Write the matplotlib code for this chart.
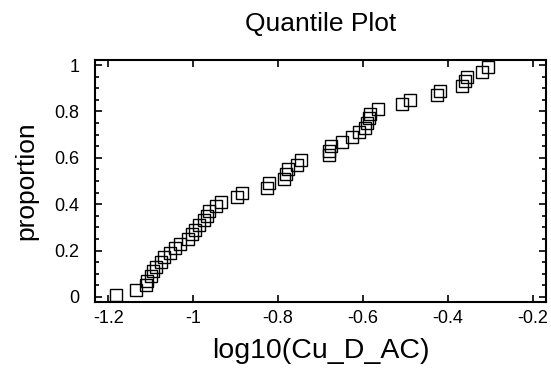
import numpy as np
import matplotlib.pyplot as plt
from matplotlib.ticker import MultipleLocator

plt.rcParams['font.family'] = ['Liberation Sans', 'DejaVu Sans']

# log10(Cu_D_AC) values, sorted, and their plotting proportions
log_cu = [-1.181, -1.134, -1.112, -1.108, -1.100, -1.095, -1.088, -1.075, -1.068, -1.055,
          -1.042, -1.032, -1.012, -1.002, -0.995, -0.985, -0.975, -0.968, -0.962, -0.945,
          -0.935, -0.896, -0.885, -0.825, -0.821, -0.786, -0.781, -0.776, -0.755, -0.745,
          -0.680, -0.680, -0.675, -0.650, -0.625, -0.610, -0.595, -0.590, -0.585, -0.583,
          -0.565, -0.508, -0.490, -0.425, -0.418, -0.367, -0.360, -0.355, -0.320, -0.305]
proportion = [0.01, 0.03, 0.05, 0.07, 0.09, 0.11, 0.13, 0.15, 0.17, 0.19,
              0.21, 0.23, 0.25, 0.27, 0.29, 0.31, 0.33, 0.35, 0.37, 0.39,
              0.41, 0.43, 0.45, 0.47, 0.49, 0.51, 0.53, 0.55, 0.57, 0.59,
              0.61, 0.63, 0.65, 0.67, 0.69, 0.71, 0.73, 0.75, 0.77, 0.79,
              0.81, 0.83, 0.85, 0.87, 0.89, 0.91, 0.93, 0.95, 0.97, 0.99]
x_ticks = [-1.2, -1.0, -0.8, -0.6, -0.4, -0.2]
x_labels = ['-1.2', '-1', '-0.8', '-0.6', '-0.4', '-0.2']
y_ticks = [0, 0.2, 0.4, 0.6, 0.8, 1.0]
y_labels = ['0', '0.2', '0.4', '0.6', '0.8', '1']

fig = plt.figure(figsize=(5.51, 3.77), dpi=100)
ax = fig.add_axes([0.1724, 0.199, 0.8186, 0.642])

ax.plot(log_cu, proportion, 's', markersize=8, markerfacecolor='none',
        markeredgecolor='black', markeredgewidth=1.0)

ax.set_xlim(-1.231, -0.169)
ax.set_ylim(-0.022, 1.022)
ax.set_xticks(x_ticks)
ax.set_xticklabels(x_labels)
ax.set_yticks(y_ticks)
ax.set_yticklabels(y_labels)
ax.yaxis.set_minor_locator(MultipleLocator(0.05))

ax.tick_params(which='both', direction='in', top=True, right=True, labelsize=13, width=1.2)
ax.tick_params(which='major', length=5)
ax.tick_params(which='minor', length=3)
ax.tick_params(axis='x', pad=6)
ax.tick_params(axis='y', pad=11)
for s in ax.spines.values():
    s.set_linewidth(1.5)

ax.set_title('Quantile Plot', fontsize=19, pad=21)
ax.set_xlabel('log10(Cu_D_AC)', fontsize=20.5, labelpad=8)
ax.set_ylabel('proportion', fontsize=19, labelpad=12)

fig.savefig('out.png', dpi=100)
